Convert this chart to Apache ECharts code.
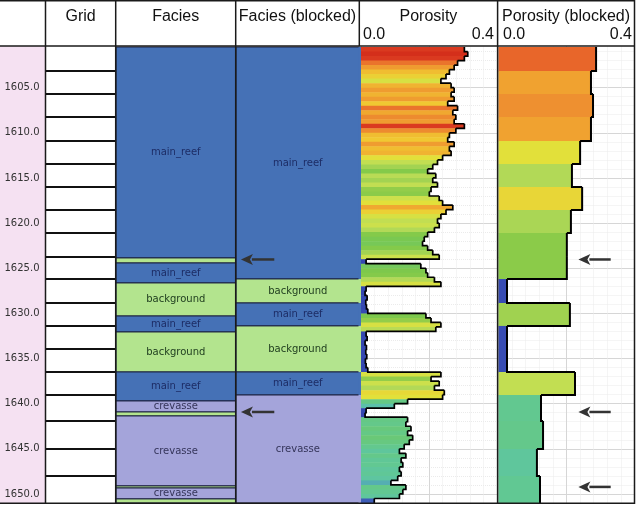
<!DOCTYPE html>
<html><head><meta charset="utf-8">
<script src="https://cdn.jsdelivr.net/npm/echarts@6/dist/echarts.min.js"></script>
<style>html,body{margin:0;padding:0;background:#fff}#c{width:640px;height:505px}</style>
</head><body><div id="c"></div>
<script>
// ---------------- DATA ----------------
const depthMin = 1600, depthMax = 1651;
const trackTitles = ['Grid', 'Facies', 'Facies (blocked)', 'Porosity', 'Porosity (blocked)'];
const porosityScaleLabels = ['0.0', '0.4'];
const porosityMin = 0, porosityMax = 0.4;

// grid cell boundaries (depth, m)
const cellBounds = [1600.5, 1603.16, 1605.70, 1608.25, 1610.91, 1613.46, 1616.00, 1618.55, 1621.10, 1623.75,
  1626.19, 1628.85, 1631.39, 1633.94, 1636.49, 1639.04, 1641.92, 1645.02, 1648.01, 1651.0];

const faciesNames = ['main_reef', 'background', 'crevasse'];
// raw facies intervals (top depth + code); last bottom = faciesBottom
const faciesTops  = [1600.5, 1623.86, 1624.42, 1626.63, 1630.29, 1632.06, 1636.49, 1639.70, 1640.92, 1641.36, 1649.11, 1649.34, 1650.55];
const faciesCodes = [0, 1, 0, 1, 0, 1, 0, 2, 1, 2, 1, 2, 1];
const faciesBottom = 1651.0;
// blocked facies per grid cell
const blockedFaciesCodes = [0, 0, 0, 0, 0, 0, 0, 0, 0, 0, 1, 0, 1, 1, 0, 2, 2, 2, 2];

// raw porosity log, sampled every 0.5 m from 1600.5 m
const porosityTop = 1600.5, porosityStep = 0.5;
const porosityValues = [
  0.304, 0.314, 0.304, 0.284, 0.274, 0.260, 0.250, 0.235, 0.265, 0.274,
  0.265, 0.274, 0.255, 0.284, 0.270, 0.279, 0.274, 0.304, 0.279, 0.260,
  0.255, 0.274, 0.260, 0.265, 0.240, 0.225, 0.211, 0.196, 0.220, 0.211,
  0.225, 0.206, 0.201, 0.230, 0.240, 0.270, 0.250, 0.235, 0.225, 0.230,
  0.216, 0.196, 0.186, 0.181, 0.196, 0.211, 0.230, 0.015, 0.176, 0.191,
  0.196, 0.216, 0.235, 0.015, 0.012, 0.018, 0.014, 0.016, 0.020, 0.191,
  0.206, 0.235, 0.220, 0.015, 0.018, 0.012, 0.016, 0.014, 0.017, 0.013,
  0.015, 0.020, 0.235, 0.206, 0.230, 0.216, 0.245, 0.240, 0.137, 0.098,
  0.015, 0.012, 0.137, 0.132, 0.147, 0.137, 0.152, 0.142, 0.127, 0.113,
  0.132, 0.118, 0.123, 0.113, 0.118, 0.108, 0.088, 0.132, 0.123, 0.113,
  0.039
];

// blocked porosity per grid cell
const blockedPorosity = [0.287, 0.272, 0.278, 0.272, 0.240, 0.216, 0.246, 0.213, 0.201, 0.201,
  0.025, 0.210, 0.025, 0.025, 0.225, 0.125, 0.131, 0.113, 0.122];

// annotation arrows (depths)
const arrowDepthsFacies = [1624.03, 1640.92];
const arrowDepthsPorosity = [1624.03, 1640.92, 1649.22];

// ---------------- STYLE ----------------
const faciesColors = ['#4571b6', '#b3e48e', '#a4a4da'];
const faciesTextColors = ['#1d2d66', '#1c3a1c', '#35355a'];
const porosityColorStops = [
  [0.00, '#2e3fae'], [0.03, '#3a4fb4'], [0.07, '#4a8cc0'], [0.10, '#5cc4a8'],
  [0.125, '#62c890'], [0.16, '#6cc870'], [0.19, '#7cc84c'], [0.205, '#90cc48'],
  [0.215, '#b0d858'], [0.228, '#c8e050'], [0.24, '#e2e03a'], [0.255, '#f0c832'],
  [0.27, '#f0a830'], [0.278, '#ee9030'], [0.287, '#e8662a'], [0.30, '#dc3e22'], [0.32, '#d02818']
];
function hex(h) { return [parseInt(h.substr(1, 2), 16), parseInt(h.substr(3, 2), 16), parseInt(h.substr(5, 2), 16)]; }
function poroColor(v) {
  const s = porosityColorStops;
  if (v <= s[0][0]) return s[0][1];
  if (v >= s[s.length - 1][0]) return s[s.length - 1][1];
  for (let i = 0; i < s.length - 1; i++) {
    if (v >= s[i][0] && v <= s[i + 1][0]) {
      const t = (v - s[i][0]) / (s[i + 1][0] - s[i][0]);
      const a = hex(s[i][1]), b = hex(s[i + 1][1]);
      return 'rgb(' + a.map((c, k) => Math.round(c + (b[k] - c) * t)).join(',') + ')';
    }
  }
  return s[0][1];
}

const TOP = 42.5, BOTTOM = 2;
const tracks = [
  { left: 0, width: 45.5 },      // depth
  { left: 46, width: 69.5 },     // grid
  { left: 116, width: 119.5 },   // facies
  { left: 236, width: 123.5 },   // facies blocked
  { left: 361, width: 136 },     // porosity
  { left: 498.5, width: 136 },   // porosity blocked
  { left: 358.5, width: 2.5 }    // facies strip in porosity track
];

// ---------------- BUILD ----------------
const faciesData = faciesTops.map((t, i) => [t, i + 1 < faciesTops.length ? faciesTops[i + 1] : faciesBottom, faciesCodes[i]]);
const blockedFaciesData = [];
blockedFaciesCodes.forEach((c, i) => {
  const last = blockedFaciesData[blockedFaciesData.length - 1];
  if (last && last[2] === c) last[1] = cellBounds[i + 1];
  else blockedFaciesData.push([cellBounds[i], cellBounds[i + 1], c]);
});
const poroData = porosityValues.map((v, i) => [porosityTop + i * porosityStep, porosityTop + (i + 1) * porosityStep, v,
  i + 1 < porosityValues.length ? porosityValues[i + 1] : -1]);
const blockedPoroData = blockedPorosity.map((v, i) => [cellBounds[i], cellBounds[i + 1], v,
  i + 1 < blockedPorosity.length ? blockedPorosity[i + 1] : -1]);

const grids = tracks.map((t, i) => ({
  left: t.left, width: t.width, top: TOP, bottom: BOTTOM,
  show: i === 0, backgroundColor: '#f5e1f2', borderWidth: 0
}));

const xAxes = tracks.map((t, i) => {
  const poro = (i === 4 || i === 5);
  return {
    gridIndex: i, type: 'value', min: poro ? porosityMin : 0, max: poro ? porosityMax : 1,
    interval: poro ? 0.2 : 1, show: poro,
    axisLine: { show: false }, axisTick: { show: false }, axisLabel: { show: false },
    splitLine: { show: poro, lineStyle: { color: '#d6d6d6', width: 1 } },
    minorTick: { show: false, splitNumber: 5 },
    minorSplitLine: { show: poro, lineStyle: { color: '#ebebeb', type: 'dotted', width: 1 } }
  };
});

const yAxes = tracks.map((t, i) => {
  const poro = (i === 4 || i === 5);
  if (i === 0) {
    return {
      gridIndex: 0, type: 'value', inverse: true, min: depthMin, max: depthMax, interval: 5,
      position: 'right',
      axisLine: { show: false },
      axisTick: { show: true, inside: true, length: 6, lineStyle: { color: '#444', width: 1 } },
      minorTick: { show: true, splitNumber: 5, length: 3, lineStyle: { color: '#444', width: 1 } },
      axisLabel: {
        inside: true, margin: 6, fontSize: 10, fontFamily: 'DejaVu Sans', color: '#333',
        showMaxLabel: false,
        formatter: v => (Math.abs(v % 5) < 1e-6 ? v.toFixed(1) : '')
      },
      splitLine: { show: false }
    };
  }
  return {
    gridIndex: i, type: 'value', inverse: true, min: depthMin, max: depthMax, interval: 5,
    show: poro,
    axisLine: { show: false }, axisTick: { show: false }, axisLabel: { show: false },
    splitLine: { show: poro, lineStyle: { color: '#d6d6d6', width: 1 } },
    minorTick: { show: false, splitNumber: 5 },
    minorSplitLine: { show: poro, lineStyle: { color: '#ebebeb', type: 'dotted', width: 1 } }
  };
});

function faciesRender(showLabel, stroke) {
  return function (params, api) {
    const t = api.value(0), b = api.value(1), code = api.value(2);
    const p0 = api.coord([0, t]), p1 = api.coord([1, b]);
    const x = p0[0], y = p0[1], w = p1[0] - p0[0], h = p1[1] - p0[1];
    const children = [{
      type: 'rect', shape: { x: x, y: y, width: w, height: h },
      style: { fill: faciesColors[code], stroke: stroke ? '#1c2240' : null, lineWidth: stroke ? 1 : 0 }
    }];
    if (showLabel && h >= 9) {
      children.push({
        type: 'text',
        style: {
          text: faciesNames[code], x: x + w / 2, y: y + h / 2, align: 'center', verticalAlign: 'middle',
          fill: faciesTextColors[code], fontSize: 10, fontFamily: 'DejaVu Sans'
        }
      });
    }
    return { type: 'group', children: children };
  };
}

function barRender(params, api) {
  const t = api.value(0), b = api.value(1), v = api.value(2);
  const p0 = api.coord([0, t]), p1 = api.coord([v, b]);
  return {
    type: 'rect', shape: { x: p0[0], y: p0[1], width: p1[0] - p0[0], height: p1[1] - p0[1] + 0.5 },
    style: { fill: poroColor(v) }
  };
}
function outlineRender(width) {
  return function (params, api) {
    const t = api.value(0), b = api.value(1), v = api.value(2), vn = api.value(3);
    const pts = [api.coord([v, t]), api.coord([v, b])];
    if (vn >= 0) pts.push(api.coord([vn, b]));
    return { type: 'polyline', shape: { points: pts }, style: { stroke: '#000', lineWidth: width, fill: null } };
  };
}
function arrowRender(x0, x1) {
  return function (params, api) {
    const d = api.value(0);
    const tip = api.coord([x0, d]), tail = api.coord([x1, d]);
    const hl = 12, hw = 5.5;
    return {
      type: 'group', children: [
        { type: 'line', shape: { x1: tip[0] + hl - 1, y1: tip[1], x2: tail[0], y2: tail[1] }, style: { stroke: '#333', lineWidth: 2.5 } },
        { type: 'polygon', shape: { points: [[tip[0], tip[1]], [tip[0] + hl, tip[1] - hw], [tip[0] + hl - 3, tip[1]], [tip[0] + hl, tip[1] + hw]] }, style: { fill: '#333' } }
      ]
    };
  };
}

const series = [
  { // grid cell lines
    type: 'custom', xAxisIndex: 1, yAxisIndex: 1, silent: true,
    data: cellBounds.slice(1, -1).map(d => [d]),
    renderItem: (params, api) => {
      const d = api.value(0);
      const a = api.coord([0, d]), b = api.coord([1, d]);
      return { type: 'line', shape: { x1: a[0], y1: a[1], x2: b[0], y2: b[1] }, style: { stroke: '#111', lineWidth: 2 } };
    }
  },
  { type: 'custom', xAxisIndex: 2, yAxisIndex: 2, silent: true, data: faciesData, renderItem: faciesRender(true, true) },
  { type: 'custom', xAxisIndex: 3, yAxisIndex: 3, silent: true, data: blockedFaciesData, renderItem: faciesRender(true, true) },
  { type: 'custom', xAxisIndex: 6, yAxisIndex: 6, silent: true, data: blockedFaciesData, renderItem: faciesRender(false, false) },
  { type: 'custom', xAxisIndex: 4, yAxisIndex: 4, silent: true, data: poroData, renderItem: barRender },
  { type: 'custom', xAxisIndex: 4, yAxisIndex: 4, silent: true, data: poroData, renderItem: outlineRender(1.7), z: 3 },
  { type: 'custom', xAxisIndex: 5, yAxisIndex: 5, silent: true, data: blockedPoroData, renderItem: barRender },
  { type: 'custom', xAxisIndex: 5, yAxisIndex: 5, silent: true, data: blockedPoroData, renderItem: outlineRender(2), z: 3 },
  { type: 'custom', xAxisIndex: 3, yAxisIndex: 3, silent: true, data: arrowDepthsFacies.map(d => [d]), renderItem: arrowRender(0.04, 0.31), z: 4 },
  { type: 'custom', xAxisIndex: 5, yAxisIndex: 5, silent: true, data: arrowDepthsPorosity.map(d => [d]), renderItem: arrowRender(0.235, 0.33), z: 4 }
];

// header + frame
const Z = 100;
const lineC = '#1a1a1a';
const elements = [
  { type: 'rect', shape: { x: 0, y: 0, width: 640, height: 46 }, style: { fill: '#fff' }, z: Z },
  { type: 'line', shape: { x1: 0, y1: 0.75, x2: 634.5, y2: 0.75 }, style: { stroke: lineC, lineWidth: 1.5 }, z: Z + 1 },
  { type: 'line', shape: { x1: 0, y1: 46, x2: 634.5, y2: 46 }, style: { stroke: lineC, lineWidth: 1.5 }, z: Z + 1 },
  { type: 'line', shape: { x1: 0, y1: 503.25, x2: 634.5, y2: 503.25 }, style: { stroke: lineC, lineWidth: 1.5 }, z: Z + 1 }
];
[45.5, 115.7, 235.7, 497.6, 634.5].forEach(x => {
  elements.push({ type: 'line', shape: { x1: x, y1: 0, x2: x, y2: 504 }, style: { stroke: lineC, lineWidth: 1.5 }, z: Z + 1 });
});
elements.push({ type: 'line', shape: { x1: 359.3, y1: 0, x2: 359.3, y2: 46 }, style: { stroke: lineC, lineWidth: 1.5 }, z: Z + 1 });
const titleCols = [[45.5, 115.7], [115.7, 235.7], [235.7, 359.3], [359.3, 497.6], [497.6, 634.5]];
trackTitles.forEach((t, i) => {
  const c = titleCols[i];
  elements.push({
    type: 'text', z: Z + 2,
    style: { text: t, x: (c[0] + c[1]) / 2, y: 17, align: 'center', verticalAlign: 'middle', fill: '#111', fontSize: 16, fontFamily: 'Liberation Sans' }
  });
});
[[3, 363, 494], [4, 503, 632]].forEach(r => {
  elements.push({ type: 'text', z: Z + 2, style: { text: porosityScaleLabels[0], x: r[1], y: 35, align: 'left', verticalAlign: 'middle', fill: '#111', fontSize: 16, fontFamily: 'Liberation Sans' } });
  elements.push({ type: 'text', z: Z + 2, style: { text: porosityScaleLabels[1], x: r[2], y: 35, align: 'right', verticalAlign: 'middle', fill: '#111', fontSize: 16, fontFamily: 'Liberation Sans' } });
});

const chart = echarts.init(document.getElementById('c'), null, { renderer: 'canvas', width: 640, height: 505 });
chart.setOption({
  animation: false,
  backgroundColor: '#fff',
  grid: grids, xAxis: xAxes, yAxis: yAxes, series: series,
  graphic: { elements: elements }
});
</script></body></html>
